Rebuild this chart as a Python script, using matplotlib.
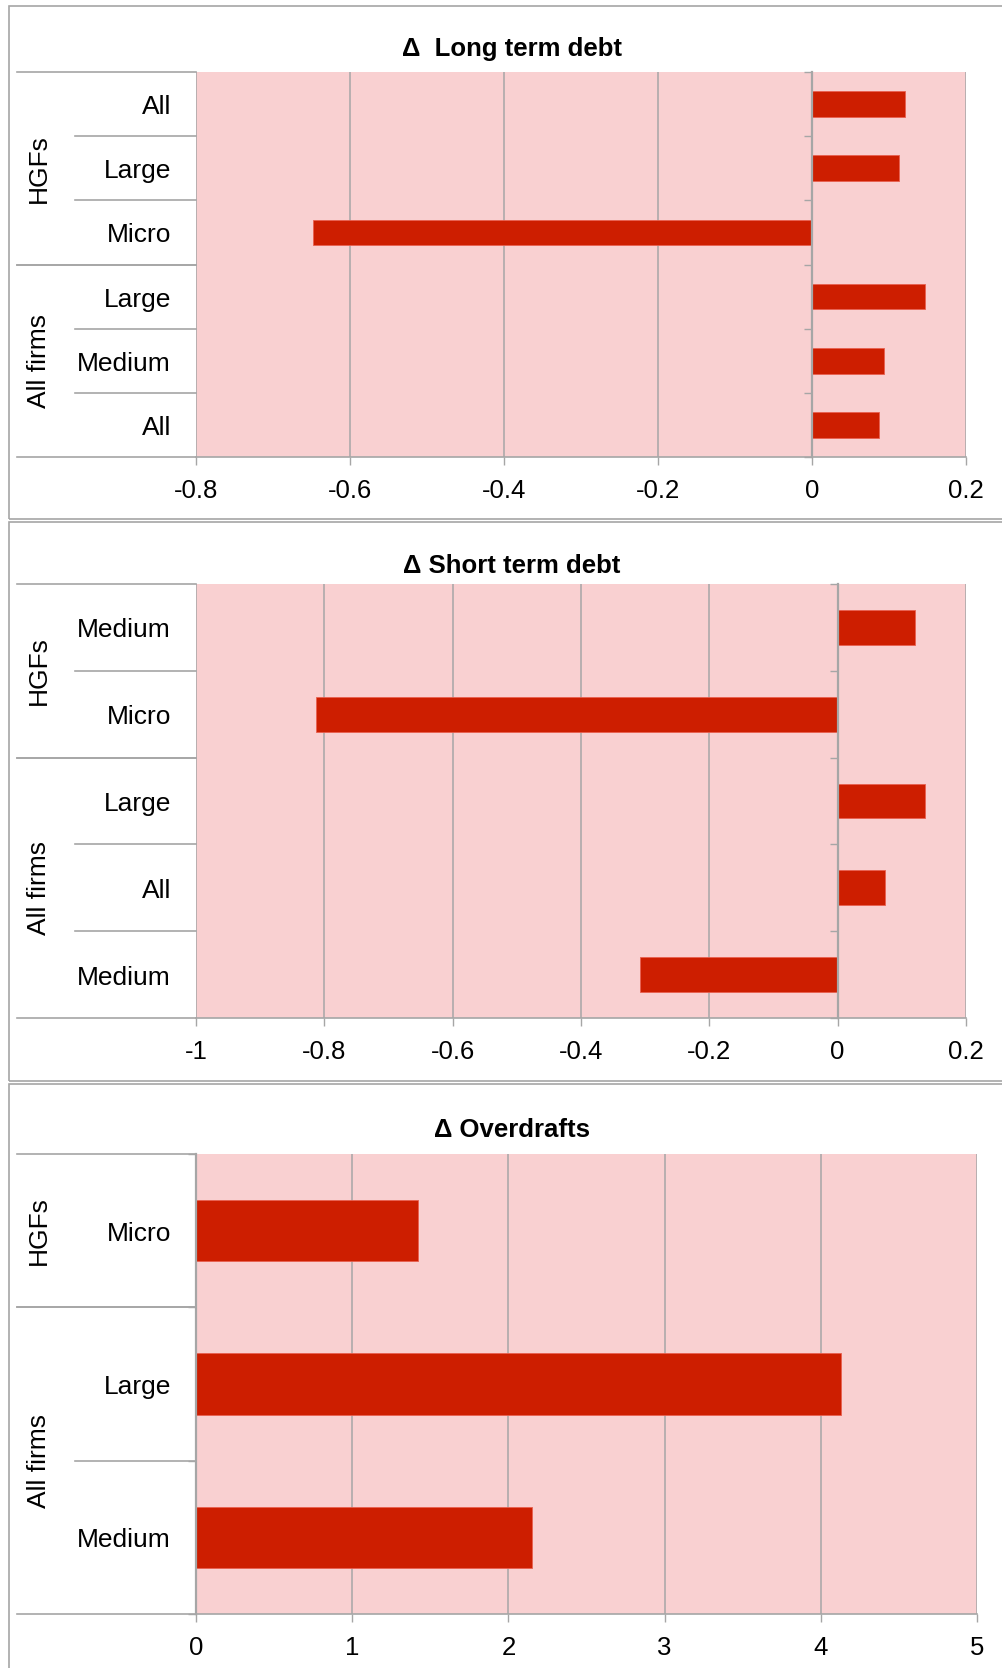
import matplotlib
matplotlib.use("Agg")
import matplotlib.pyplot as plt
import matplotlib.transforms as mtransforms
from matplotlib.lines import Line2D
from matplotlib.patches import Rectangle

plt.rcParams['font.family'] = ['Liberation Sans', 'DejaVu Sans']

# Change in long term debt
long_term_labels = ["All", "Large", "Micro", "Large", "Medium", "All"]
long_term_groups = ["HGFs", "HGFs", "HGFs", "All firms", "All firms", "All firms"]
long_term_values = [0.121, 0.113, -0.648, 0.147, 0.093, 0.087]
long_term_ticks = [-0.8, -0.6, -0.4, -0.2, 0, 0.2]

# Change in short term debt
short_term_labels = ["Medium", "Micro", "Large", "All", "Medium"]
short_term_groups = ["HGFs", "HGFs", "All firms", "All firms", "All firms"]
short_term_values = [0.121, -0.813, 0.136, 0.073, -0.308]
short_term_ticks = [-1, -0.8, -0.6, -0.4, -0.2, 0, 0.2]

# Change in overdrafts
overdraft_labels = ["Micro", "Large", "Medium"]
overdraft_groups = ["HGFs", "All firms", "All firms"]
overdraft_values = [1.42, 4.13, 2.15]
overdraft_ticks = [0, 1, 2, 3, 4, 5]

W, H = 1002, 1668
BAR = "#cd1e00"
BG = "#f9d0d1"
GRID = "#a6a6a6"

fig = plt.figure(figsize=(W / 100, H / 100), dpi=100)


def box(left, top, right, bottom):
    return [left / W, 1 - bottom / H, (right - left) / W, (bottom - top) / H]


def fmt(v):
    v = round(v, 6)
    return "0" if v == 0 else f"{v:g}"


def draw_panel(frame, plot_box, title, title_y, labels, groups, values, ticks):
    # outer frame of the panel
    fig.add_artist(Rectangle((9 / W, 1 - frame[1] / H), 2, (frame[1] - frame[0]) / H,
                             transform=fig.transFigure, fill=False,
                             edgecolor=GRID, linewidth=1.2))
    fig.text(512 / W, 1 - title_y / H, title, ha="center", va="center",
             fontsize=18.5, fontweight="bold")

    ax = fig.add_axes(box(*plot_box))
    n = len(values)
    ax.set_facecolor(BG)
    ax.barh(range(n), values, height=0.4, color=BAR, edgecolor="#e8604f",
            linewidth=0.6, zorder=3)
    ax.set_ylim(n - 0.5, -0.5)
    ax.set_xlim(ticks[0], ticks[-1])

    ax.set_xticks(ticks)
    ax.set_xticklabels([fmt(t) for t in ticks])
    ax.tick_params(axis="x", length=6, width=1.0, color=GRID, labelsize=18.5, pad=10)
    ax.grid(axis="x", color=GRID, linewidth=1.1, zorder=1)

    # value axis crosses at zero with small ticks at the category edges
    ax.spines["left"].set_position(("data", 0))
    ax.spines["left"].set_color(GRID)
    ax.spines["left"].set_linewidth(1.6)
    ax.spines["left"].set_zorder(4)
    ax.set_yticks([k - 0.5 for k in range(n + 1)])
    ax.set_yticklabels([])
    ax.tick_params(axis="y", length=6, width=1.0, color=GRID)
    ax.spines["bottom"].set_color(GRID)
    ax.spines["bottom"].set_linewidth(1.2)
    for side in ("top", "right"):
        ax.spines[side].set_visible(False)

    # category table on the left
    trans = mtransforms.blended_transform_factory(fig.transFigure, ax.transData)
    text_trans = mtransforms.offset_copy(trans, fig=fig, y=-3, units="dots")
    x0, x1, x_cat = 17 / W, plot_box[0] / W, 75 / W
    for i, lab in enumerate(labels):
        fig.text(171 / W, 0, lab, transform=text_trans, fontsize=19, ha="right",
                 va="center").set_y(i)
    start = 0
    for i in range(1, n + 1):
        if i == n or groups[i] != groups[start]:
            fig.add_artist(Line2D([x0, x1], [start - 0.5, start - 0.5],
                                  transform=trans, color=GRID, linewidth=1.2))
            fig.add_artist(Line2D([x0, x1], [i - 0.5, i - 0.5],
                                  transform=trans, color=GRID, linewidth=1.2))
            t = fig.text(39 / W, 0, groups[start], transform=trans, fontsize=19,
                         rotation=90, ha="center", va="center")
            t.set_y((start + i - 1) / 2)
            start = i
        else:
            fig.add_artist(Line2D([x_cat, x1], [i - 0.5, i - 0.5],
                                  transform=trans, color=GRID, linewidth=1.2))
    return ax


draw_panel((5.5, 519), (196, 72, 966, 457), "\u0394  Long term debt", 49,
           long_term_labels, long_term_groups, long_term_values, long_term_ticks)
draw_panel((522, 1081), (196, 584, 966, 1018), "\u0394 Short term debt", 566,
           short_term_labels, short_term_groups, short_term_values, short_term_ticks)
draw_panel((1084, 1720), (196, 1154, 977, 1614), "\u0394 Overdrafts", 1130,
           overdraft_labels, overdraft_groups, overdraft_values, overdraft_ticks)

fig.savefig("out.png", dpi=100, facecolor="white")
